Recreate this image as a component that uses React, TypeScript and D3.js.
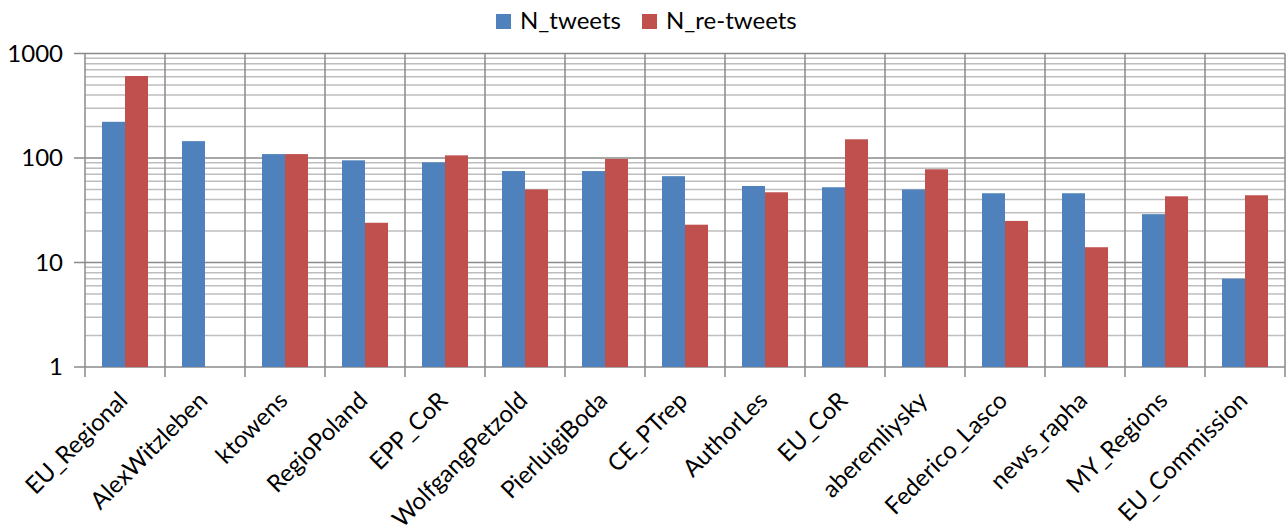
import { useEffect, useRef } from "react";
import * as d3 from "d3";

const accounts = [
  "EU_Regional",
  "AlexWitzleben",
  "ktowens",
  "RegioPoland",
  "EPP_CoR",
  "WolfgangPetzold",
  "PierluigiBoda",
  "CE_PTrep",
  "AuthorLes",
  "EU_CoR",
  "aberemliysky",
  "Federico_Lasco",
  "news_rapha",
  "MY_Regions",
  "EU_Commission",
];

const nTweets = [222, 145, 109, 95, 91, 75, 75, 67, 54, 52.5, 50, 46, 46, 29, 7];
const nRetweets = [609, 0, 109, 24, 106, 50, 98, 23, 47, 151, 78, 25, 14, 43, 44];

const seriesNames = ["N_tweets", "N_re-tweets"];
const seriesColors = ["#4F81BD", "#C0504D"];
const yTicks = [1, 10, 100, 1000];

export default function App() {
  const svgRef = useRef<SVGSVGElement>(null);

  useEffect(() => {
    if (!svgRef.current) return;
    const svg = d3.select(svgRef.current);
    const width = 1286;
    const height = 529;
    const margin = { left: 85, right: 1, top: 53.5, bottom: 162 };
    const font = "Lato, 'Noto Sans', sans-serif";

    svg.selectAll("*").remove();
    svg.attr("width", width).attr("height", height);

    const x0 = d3
      .scaleBand<string>()
      .domain(accounts)
      .range([margin.left, width - margin.right]);
    const x1 = d3
      .scaleBand<string>()
      .domain(seriesNames)
      .range([0, x0.bandwidth()])
      .paddingOuter(0.74);
    const y = d3
      .scaleLog()
      .domain([1, 1000])
      .range([height - margin.bottom, margin.top]);

    const x0Start = margin.left;
    const xEnd = width - margin.right;
    const yBottom = y(1);

    // minor gridlines
    const minor: number[] = [];
    [1, 10, 100].forEach((d) => {
      for (let k = 2; k <= 9; k++) minor.push(d * k);
    });
    svg
      .append("g")
      .selectAll("line")
      .data(minor)
      .join("line")
      .attr("x1", x0Start)
      .attr("x2", xEnd)
      .attr("y1", (d) => y(d))
      .attr("y2", (d) => y(d))
      .attr("stroke", "#BEBEBE")
      .attr("stroke-width", 1.5);

    // vertical gridlines at category boundaries
    const bounds = accounts.map((a) => x0(a)!).concat([xEnd]);
    svg
      .append("g")
      .selectAll("line")
      .data(bounds)
      .join("line")
      .attr("x1", (d) => d)
      .attr("x2", (d) => d)
      .attr("y1", margin.top)
      .attr("y2", yBottom + 10)
      .attr("stroke", "#8A8A8A")
      .attr("stroke-width", 1.5);

    // major gridlines
    svg
      .append("g")
      .selectAll("line")
      .data(yTicks)
      .join("line")
      .attr("x1", x0Start - 11)
      .attr("x2", xEnd)
      .attr("y1", (d) => y(d))
      .attr("y2", (d) => y(d))
      .attr("stroke", "#8A8A8A")
      .attr("stroke-width", 1.5);

    // bars
    const series = [nTweets, nRetweets];
    const barG = svg.append("g");
    series.forEach((vals, si) => {
      barG
        .selectAll(`rect.s${si}`)
        .data(vals.map((v, i) => ({ v, name: accounts[i] })).filter((d) => d.v > 0))
        .join("rect")
        .attr("class", `s${si}`)
        .attr("x", (d) => x0(d.name)! + x1(seriesNames[si])!)
        .attr("width", x1.bandwidth())
        .attr("y", (d) => y(d.v))
        .attr("height", (d) => yBottom - y(d.v))
        .attr("fill", seriesColors[si]);
    });

    // y tick labels
    svg
      .append("g")
      .selectAll("text")
      .data(yTicks)
      .join("text")
      .attr("x", 63)
      .attr("y", (d) => y(d))
      .attr("dy", "0.35em")
      .attr("text-anchor", "end")
      .attr("font-family", font)
      .attr("font-size", "24px")
      .attr("fill", "#000")
      .text((d) => String(d));

    // x labels
    svg
      .append("g")
      .selectAll("text")
      .data(accounts)
      .join("text")
      .attr(
        "transform",
        (d) => `translate(${x0(d)! + x0.bandwidth() / 2 + 4},${yBottom + 35}) rotate(-45)`
      )
      .attr("text-anchor", "end")
      .attr("font-family", font)
      .attr("font-size", "24px")
      .attr("fill", "#000")
      .text((d) => d);

    // legend
    const legend = svg.append("g");
    const legendX = [496, 642];
    seriesNames.forEach((name, i) => {
      legend
        .append("rect")
        .attr("x", legendX[i])
        .attr("y", 14)
        .attr("width", 15)
        .attr("height", 15)
        .attr("fill", seriesColors[i]);
      legend
        .append("text")
        .attr("x", legendX[i] + 24)
        .attr("y", 29)
        .attr("font-family", font)
        .attr("font-size", "24px")
        .attr("fill", "#000")
        .text(name);
    });
  }, []);

  return (
    <svg
      ref={svgRef}
      style={{ position: "absolute", left: 0, top: 0, background: "#fff" }}
    ></svg>
  );
}
